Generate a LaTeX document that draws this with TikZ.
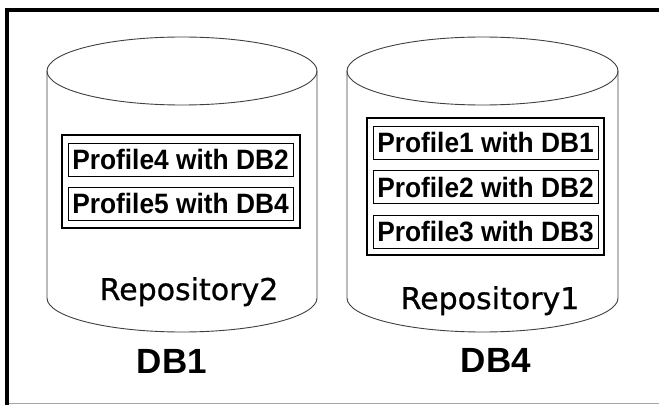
\documentclass[tikz,border=0pt]{standalone}
\usepackage{fontspec}
\setmainfont{Liberation Sans}
\newfontfamily\repofont[FakeBold=0.8]{DejaVu Sans}
\usetikzlibrary{positioning}
\tikzset{
  cyl/.style={draw=black!75, line width=0.9pt},
  grpbox/.style={draw=black, line width=1.1pt},
  profbox/.style={draw=black, line width=1pt, minimum width=225pt, minimum height=33pt, inner sep=0pt,
    font=\fontsize{28}{32}\selectfont\bfseries},
  repolabel/.style={anchor=base, inner sep=0pt, font=\repofont\fontsize{30}{34}\selectfont},
  dblabel/.style={anchor=base, inner sep=0pt, font=\fontsize{35}{40}\selectfont\bfseries},
}
\newcommand{\ptext}[1]{\raisebox{0.5pt}{\scalebox{0.94}[1]{#1}}}
\begin{document}
\begin{tikzpicture}[x=1pt,y=1pt]
\useasboundingbox (0,0) rectangle (659,405);
\fill[white] (0,0) rectangle (659,405);
% frame
\fill[black] (5,0) rectangle (9,397);
\fill[black] (5,393) rectangle (659,397);
\draw[black!35, line width=1pt] (9,2) -- (659,2);
% cylinder 1
\draw[cyl] (182,334) ellipse [x radius=135, y radius=34];
\draw[cyl] (47,334) -- (47,107) arc[start angle=180, end angle=360, x radius=135, y radius=34] -- (317,334);
% cylinder 2
\draw[cyl] (482.5,334) ellipse [x radius=135.5, y radius=34];
\draw[cyl] (347,334) -- (347,107) arc[start angle=180, end angle=360, x radius=135.5, y radius=34] -- (618,334);
% left group
\node[grpbox, minimum width=238pt, minimum height=93pt, inner sep=0pt] (g2) at (181,223.5) {};
\node[profbox] (p4) at (180.5,245) {\ptext{Profile4 with DB2}};
\node[profbox] (p5) at (180.5,201) {\ptext{Profile5 with DB4}};
% right group
\node[grpbox, minimum width=237pt, minimum height=137pt, inner sep=0pt] (g1) at (485.5,218.5) {};
\node[profbox] (p1) at (485.5,262) {\ptext{Profile1 with DB1}};
\node[profbox] (p2) at (485.5,217.5) {\ptext{Profile2 with DB2}};
\node[profbox] (p3) at (485.5,173) {\ptext{Profile3 with DB3}};
% labels
\node[repolabel] (r2) at (189,105) {Repository2};
\node[repolabel] (r1) at (490,96) {Repository1};
\node[dblabel] (db1) at (172,32) {DB1};
\node[dblabel] (db4) at (496,33) {DB4};
\end{tikzpicture}
\end{document}
